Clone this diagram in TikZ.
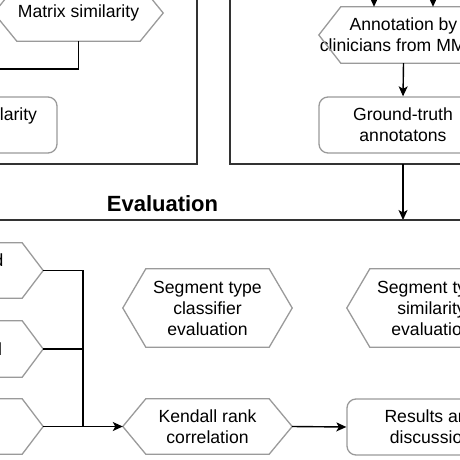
\documentclass[tikz,border=0pt]{standalone}
\usepackage{fontspec}
\setmainfont{Liberation Sans}
\usetikzlibrary{arrows.meta,calc}
\definecolor{shapegray}{HTML}{9A9A9A}
\definecolor{boxdark}{HTML}{333333}
\tikzset{
  txt/.style={font=\fontsize{17.6}{21}\selectfont, align=center, inner sep=0pt, text=black},
  hexbox/.style={txt, draw=none, minimum width=169pt},
  hexline/.style={draw=shapegray, line width=1.3pt, line join=miter},
  rbox/.style={txt, draw=shapegray, line width=1.3pt, rounded corners=9pt, minimum width=168pt, minimum height=56pt},
  lane/.style={draw=boxdark, line width=1.5pt},
  conn/.style={draw=black, line width=1.4pt},
  arr/.style={conn, -{Stealth[length=10pt,width=9pt,inset=2.5pt]}},
}
% \hexa{name}{cx}{cy}{halfheight}{dx}{text}
\newcommand{\hexa}[6]{%
  \node[hexbox, minimum height=2*#4 pt] (#1) at (#2,#3) {#6};
  \draw[hexline] (#1.west) -- ($(#1.north west)+(#5,0)$) -- ($(#1.north east)-(#5,0)$)
     -- (#1.east) -- ($(#1.south east)-(#5,0)$) -- ($(#1.south west)+(#5,0)$) -- cycle;
}
\begin{document}
\begin{tikzpicture}[x=1pt,y=-1pt]
\useasboundingbox (0,0) rectangle (460,460);
\clip (0,0) rectangle (460,460);
% containers
\draw[lane] (-20,-20) -- (197,-20) -- (197,164) -- (-20,164);
\draw[lane] (490,-20) -- (230,-20) -- (230,164) -- (490,164);
% top-left part
\hexa{matrix}{78.5}{13}{28}{23}{Matrix similarity}
\node[rbox] (simbox) at (-27,125) {Cosine similarity\\\mbox{}};
\coordinate (mfree) at (-20,69);
\draw[conn] (matrix.south) |- (mfree);
% top-right part
\hexa{annot}{403.5}{35}{28}{22}{Annotation by\\clinicians from MMCs}
\node[rbox] (gt) at (403,125) {Ground-truth\\annotatons};
\coordinate (in1) at (374,-20);
\coordinate (in2) at (433,-20);
\draw[arr] (in1) -- (in1 |- annot.north);
\draw[arr] (in2) -- (in2 |- annot.north);
\draw[arr] (annot.south) -- (gt.north);
\coordinate (gtout) at (403,164);
\coordinate (evtop) at (403,220);
\draw[arr] (gtout) -- (evtop);
% evaluation lane
\node[font=\fontsize{22}{26}\selectfont\bfseries, inner sep=0pt] (evaltitle) at (162.5,204) {Evaluation};
\draw[lane] (-20,220) -- (490,220);
% bottom-left hexagons
\hexa{ha}{-41.5}{270.5}{27.5}{21}{Rule-based\\\mbox{}}
\hexa{hb}{-41.5}{349}{28}{21}{LLM model}
\hexa{hc}{-41.5}{426.5}{27.5}{21}{}
\hexa{stc}{207.5}{308}{39}{23}{Segment type\\classifier\\evaluation}
\hexa{sts}{431.5}{308}{39}{23}{Segment type\\similarity\\evaluation}
\hexa{kendall}{207.5}{426.5}{27.5}{23}{Kendall rank\\correlation}
\node[rbox] (results) at (431,427) {Results and\\discussion};
\coordinate (join) at (83,426.5);
\draw[conn] (ha.east) -| (join);
\draw[conn] (hb.east) -- (hb.east -| join);
\draw[arr] (hc.east) -- (kendall.west);
\draw[arr] (kendall.east) -- (results.west);
\end{tikzpicture}
\end{document}
